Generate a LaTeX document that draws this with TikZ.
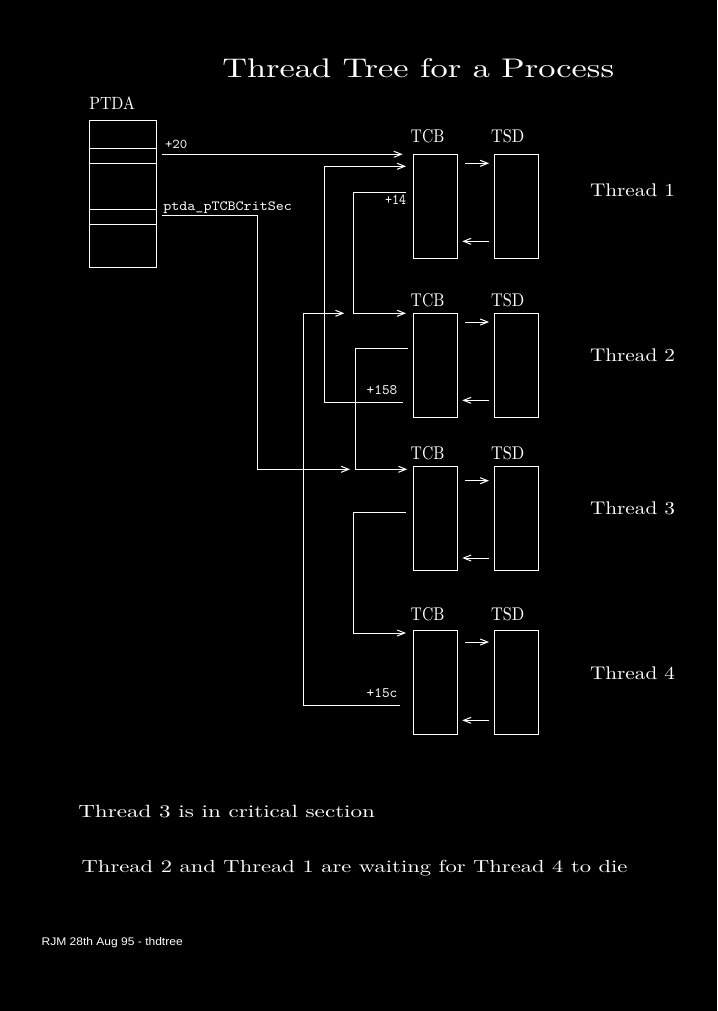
\documentclass[tikz,border=0pt]{standalone}
\usepackage{fontspec}
\usepackage{graphicx}
\newfontfamily\footfont{Liberation Sans}
\usetikzlibrary{arrows.meta}
\newcommand{\rsz}[3]{\resizebox{#1pt}{#2pt}{#3}}
\begin{document}
\begin{tikzpicture}[x=1pt,y=-1pt,
  wire/.style={draw=white,line width=1pt},
  arr/.style={wire,-{Straight Barb[length=7.5pt,width=6pt,line width=1pt]}},
  box/.style={draw=white,line width=1pt,inner sep=0pt,outer sep=0pt,anchor=north west,minimum width=44pt},
  txt/.style={text=white,inner sep=0pt,outer sep=0pt,anchor=base west},
  txtr/.style={text=white,inner sep=0pt,outer sep=0pt,anchor=base east}]
\fill[black] (0,0) rectangle (717,1011);
\useasboundingbox (0,0) rectangle (717,1011);

% title
\node[txt] (title) at (222.3,77.3) {\rsz{391.7}{19}{Thread Tree for a Process}};

% PTDA structure
\node[txt] (ptdalbl) at (89.3,110) {\rsz{45.7}{12.7}{PTDA}};
\node[box,minimum width=67.4pt,minimum height=146.3pt] (ptda) at (89.3,120.7) {};
\foreach \yy in {27.6,42.6,88.6,103.6}
  \draw[wire] ([yshift=-\yy pt]ptda.north west) -- ([yshift=-\yy pt]ptda.north east);

% TCB / TSD boxes
\foreach \i/\t/\h/\lb in {1/154.3/104/142.3, 2/313.3/103.7/306, 3/466.3/104/459.3, 4/630.3/104/620.7}{
  \node[box,minimum height=\h pt] (tcb\i) at (413.3,\t) {};
  \node[box,minimum width=44.4pt,minimum height=\h pt] (tsd\i) at (494.3,\t) {};
  \node[txt] (tcblbl\i) at (410.7,\lb) {\rsz{33.7}{13}{TCB}};
  \node[txt] (tsdlbl\i) at (491,\lb) {\rsz{33.3}{13}{TSD}};
}

% TCB <-> TSD arrows
\foreach \i/\a/\b in {1/9/87, 2/8.7/87, 3/14.4/91.7, 4/11.7/90}{
  \draw[arr] ([xshift=7.7pt,yshift=-\a pt]tcb\i.north east) -- ([xshift=-5.3pt,yshift=-\a pt]tsd\i.north west);
  \draw[arr] ([xshift=-5.3pt,yshift=-\b pt]tsd\i.north west) -- ([xshift=5pt,yshift=-\b pt]tcb\i.north east);
}

% thread labels
\node[txt] (th1) at (590,196.7) {\rsz{85}{12.7}{Thread 1}};
\node[txt] (th2) at (590,361) {\rsz{85}{12.7}{Thread 2}};
\node[txt] (th3) at (590,514) {\rsz{85}{12.7}{Thread 3}};
\node[txt] (th4) at (590,679) {\rsz{85}{12.7}{Thread 4}};

% PTDA +20 -> TCB1
\draw[arr] ([xshift=5.3pt,yshift=-33.6pt]ptda.north east) -- ([xshift=-10.6pt]tcb1.north west);
\node[txt] (l20) at (165,149) {\rsz{22.3}{8.3}{\ttfamily +20}};

% ptda_pTCBCritSec -> TCB3
\draw[arr] ([xshift=5.3pt,yshift=-95pt]ptda.north east) -- ++(95.3,0) |- ([xshift=-63.3pt,yshift=-3pt]tcb3.north west);
\node[txt] (lcrit) at (163.3,210.7) {\rsz{128.7}{8.7}{\ttfamily ptda\_pTCBCritSec}};

% TCB1 +14 -> TCB2
\draw[arr] ([xshift=-7.3pt,yshift=-37.7pt]tcb1.north west) -- ++(-52.7,0) |- ([xshift=-7.3pt]tcb2.north west);
\node[txtr] (l14) at (406,204.3) {\rsz{21}{9.3}{\ttfamily +14}};

% TCB2 -> TCB3
\draw[arr] ([xshift=-5pt,yshift=-35.4pt]tcb2.north west) -- ++(-53,0) |- ([xshift=-6pt,yshift=-3pt]tcb3.north west);

% TCB2 +158 -> TCB1
\draw[arr] ([xshift=-10.6pt,yshift=-89pt]tcb2.north west) -- ++(-78.4,0) |- ([xshift=-7.3pt,yshift=-12pt]tcb1.north west);
\node[txtr] (l158) at (397.3,394) {\rsz{30.6}{9}{\ttfamily +158}};

% TCB3 -> TCB4
\draw[arr] ([xshift=-7.3pt,yshift=-45.7pt]tcb3.north west) -- ++(-52.7,0) |- ([xshift=-7.3pt,yshift=-2.7pt]tcb4.north west);

% TCB4 +15c -> (TCB2 chain)
\draw[arr] ([xshift=-13.3pt,yshift=-75pt]tcb4.north west) -- ++(-96.7,0) |- ([xshift=-69pt]tcb2.north west);
\node[txtr] (l15c) at (397.3,697.3) {\rsz{30.6}{9}{\ttfamily +15c}};

% notes
\node[txt] (note1) at (78.3,817.3) {\rsz{296.7}{12.3}{Thread 3 is in critical section}};
\node[txt] (note2) at (81.7,872.3) {\rsz{545.6}{12.3}{Thread 2 and Thread 1 are waiting for Thread 4 to die}};
\node[txt] (foot) at (41.7,945.7) {\rsz{141}{8}{\footfont RJM 28th Aug 95 - thdtree}};
\end{tikzpicture}
\end{document}
